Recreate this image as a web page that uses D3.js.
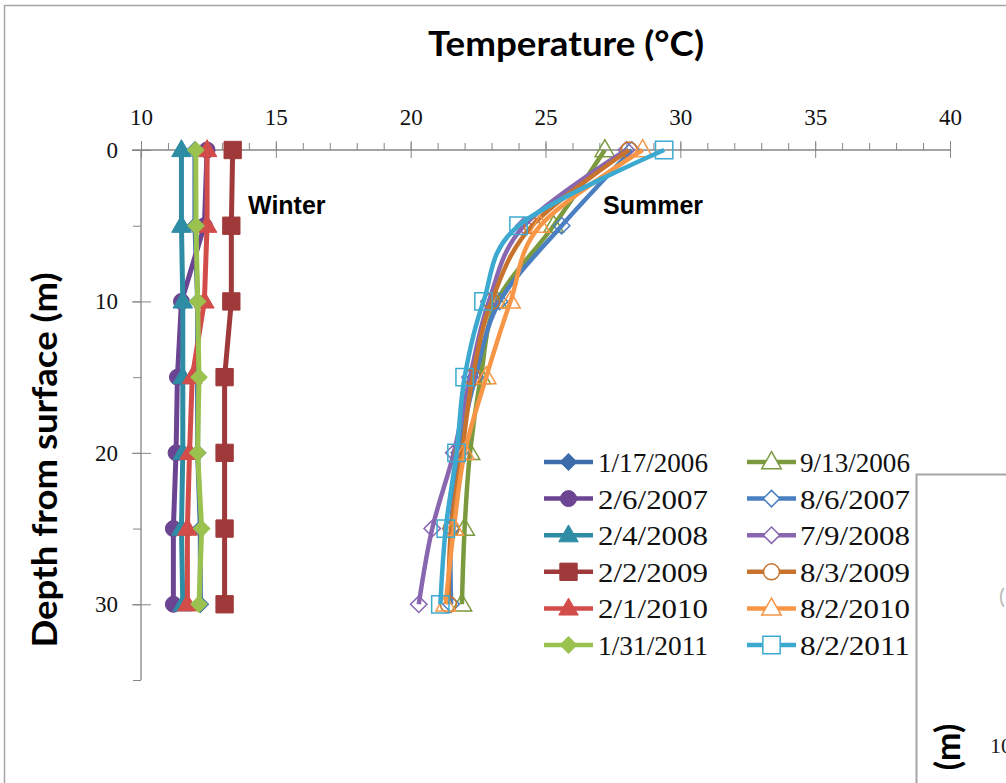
<!DOCTYPE html>
<meta charset=utf-8>
<script src="https://cdn.jsdelivr.net/npm/d3@7"></script>
<style>
body { margin: 0; background: white }
svg { display: block }
</style>
<body>
<svg id=chart width=1006 height=783></svg>
<script>
// depths (m) and temperatures (°C)
const depths = [0, 5, 10, 15, 20, 25, 30];
const xTicks = [10, 15, 20, 25, 30, 35, 40];
const yTicks = [0, 10, 20, 30];

const d20060117 = [12.0, 12.0, 12.1, 12.1, 12.1, 12.2, 12.2];
const d20060913 = [27.2, 25.3, 23.2, 22.6, 22.2, 22.0, 21.9];
const d20070206 = [12.45, 12.35, 11.5, 11.35, 11.3, 11.2, 11.2];
const d20070806 = [28.2, 25.6, 23.3, 22.4, 21.8, 21.5, 21.5];
const d20080204 = [11.5, 11.5, 11.55, 11.55, 11.55, 11.5, 11.55];
const d20080709 = [28.0, 24.2, 22.9, 22.2, 21.6, 20.8, 20.3];
const d20090202 = [13.4, 13.35, 13.35, 13.1, 13.1, 13.1, 13.1];
const d20090803 = [28.1, 24.5, 23.0, 22.3, 21.9, 21.5, 21.4];
const d20100201 = [12.45, 12.45, 12.35, 11.9, 11.8, 11.72, 11.72];
const d20100802 = [28.6, 24.8, 23.7, 22.8, 22.0, 21.6, 21.3];
const d20110131 = [12.03, 12.04, 12.1, 12.15, 12.1, 12.25, 12.15];
const d20110802 = [29.4, 24.0, 22.7, 22.0, 21.7, 21.3, 21.1];

// series in chronological order (legend reads row by row)
const series = [
	{name: "1/17/2006", vals: d20060117, color: "#3d6cab", shape: "diamond", filled: true},
	{name: "9/13/2006", vals: d20060913, color: "#7a9a3d", shape: "triangle", filled: false},
	{name: "2/6/2007", vals: d20070206, color: "#6b4592", shape: "circle", filled: true},
	{name: "8/6/2007", vals: d20070806, color: "#4a7fc1", shape: "diamond", filled: false},
	{name: "2/4/2008", vals: d20080204, color: "#2e8ca5", shape: "triangle", filled: true},
	{name: "7/9/2008", vals: d20080709, color: "#8866b0", shape: "diamond", filled: false},
	{name: "2/2/2009", vals: d20090202, color: "#a0393a", shape: "square", filled: true},
	{name: "8/3/2009", vals: d20090803, color: "#c7732d", shape: "circle", filled: false},
	{name: "2/1/2010", vals: d20100201, color: "#d24c4a", shape: "triangle", filled: true},
	{name: "8/2/2010", vals: d20100802, color: "#f79646", shape: "triangle", filled: false},
	{name: "1/31/2011", vals: d20110131, color: "#9bc24f", shape: "diamond", filled: true},
	{name: "8/2/2011", vals: d20110802, color: "#3caad0", shape: "square", filled: false}
];

const svg = d3.select("#chart");
const x = d3.scaleLinear().domain([10, 40]).range([141, 950]);
const y = d3.scaleLinear().domain([0, 35]).range([150, 680]);
const axisColor = "#868686";

// outer frame
svg.append("rect").attr("x", 4.5).attr("y", 5.5).attr("width", 1100).attr("height", 900)
	.attr("fill", "white").attr("stroke", "#a6a6a6").attr("stroke-width", 1.5);

// titles
svg.append("text").attr("x", 566).attr("y", 56).attr("text-anchor", "middle")
	.attr("font-family", "Lato").attr("font-weight", "bold").attr("font-size", 34)
	.attr("textLength", 276).attr("lengthAdjust", "spacingAndGlyphs")
	.text("Temperature (°C)");
svg.append("text").attr("transform", "translate(57,460) rotate(-90)").attr("text-anchor", "middle")
	.attr("font-family", "Lato").attr("font-weight", "bold").attr("font-size", 34)
	.attr("textLength", 375).attr("lengthAdjust", "spacingAndGlyphs")
	.text("Depth from surface (m)");

// X axis: minor ticks every 1, major every 5
svg.append("g").attr("transform", `translate(0,${y(0)})`)
	.call(d3.axisTop(x).tickValues(d3.range(10, 41)).tickSize(7).tickFormat(""))
	.call(g => g.select(".domain").remove())
	.call(g => g.selectAll("line").attr("stroke", axisColor));
svg.append("g").attr("transform", `translate(0,${y(0)})`)
	.call(d3.axisTop(x).tickValues(xTicks).tickSizeInner(9).tickSizeOuter(0).tickPadding(16))
	.call(g => g.select(".domain").attr("stroke", axisColor).attr("stroke-width", 1.3).attr("d", `M${x(10) - 9},0H${x(40)}`))
	.call(g => g.selectAll(".tick line").attr("stroke", axisColor).attr("y1", 8))
	.call(g => g.selectAll("text").attr("font-family", "Liberation Serif").attr("font-size", 23).attr("fill", "#111"));

// Y axis: minor ticks every 5, major every 10
svg.append("g").attr("transform", `translate(${x(10)},0)`)
	.call(d3.axisLeft(y).tickValues(d3.range(0, 36, 5)).tickSize(8).tickFormat(""))
	.call(g => g.select(".domain").remove())
	.call(g => g.selectAll("line").attr("stroke", axisColor));
svg.append("g").attr("transform", `translate(${x(10)},0)`)
	.call(d3.axisLeft(y).tickValues(yTicks).tickSizeInner(9).tickSizeOuter(0).tickPadding(14))
	.call(g => g.select(".domain").attr("stroke", axisColor).attr("stroke-width", 1.3).attr("d", `M0,${y(0)}V${y(35)}`))
	.call(g => g.selectAll(".tick line").attr("stroke", axisColor).attr("x1", 10))
	.call(g => g.selectAll("text").attr("font-family", "Liberation Serif").attr("font-size", 23).attr("fill", "#111"));

// marker shapes
function marker(shape) {
	if (shape == "square") return d3.symbol(d3.symbolSquare, 300)();
	if (shape == "circle") return d3.symbol(d3.symbolCircle, 200)();
	if (shape == "triangle") return d3.symbol(d3.symbolTriangle, 165)();
	return d3.symbol(d3.symbolSquare, 135)();
}
function markerRot(shape) { return shape == "diamond" ? " rotate(45)" : (shape == "triangle" ? " translate(0,1)" : ""); }

// annotations
svg.append("text").attr("x", 248).attr("y", 214).attr("font-family", "Liberation Sans").attr("font-weight", "bold")
	.attr("font-size", 25).text("Winter");
svg.append("text").attr("x", 603).attr("y", 214).attr("font-family", "Liberation Sans").attr("font-weight", "bold")
	.attr("font-size", 25).text("Summer");

// series: line then markers
const straight = d3.line().x(d => x(d[0])).y(d => y(d[1]));
const smooth = d3.line().x(d => x(d[0])).y(d => y(d[1])).curve(d3.curveCardinal.tension(0));
for (const s of series) {
	const pts = s.vals.map((v, i) => [v, depths[i]]);
	const g = svg.append("g");
	g.append("path").attr("d", (s.filled ? straight : smooth)(pts))
		.attr("fill", "none").attr("stroke", s.color).attr("stroke-width", s.filled ? 5 : 4.5).attr("stroke-linejoin", "round");
	g.selectAll(".m").data(pts).join("path")
		.attr("transform", d => `translate(${x(d[0])},${y(d[1])})` + markerRot(s.shape))
		.attr("d", marker(s.shape))
		.attr("fill", s.filled ? s.color : "none")
		.attr("stroke", s.color).attr("stroke-width", s.filled ? 1 : 1.5);
}

// legend, two columns, filled row by row
const legend = svg.append("g");
series.forEach((s, i) => {
	const col = i % 2, row = Math.floor(i / 2);
	const lx = col ? 747 : 544, ly = 462 + row * 36.6;
	const g = legend.append("g").attr("transform", `translate(${lx},${ly})`);
	g.append("line").attr("x1", 0).attr("x2", 49).attr("stroke", s.color).attr("stroke-width", 4.5);
	g.append("path").attr("transform", "translate(24.5,0)" + markerRot(s.shape))
		.attr("d", marker(s.shape))
		.attr("fill", s.filled ? s.color : "white")
		.attr("stroke", s.color).attr("stroke-width", s.filled ? 1 : 1.5);
	g.append("text").attr("x", col ? 53 : 54).attr("y", 10)
		.attr("font-family", "Liberation Serif").attr("font-size", 28).attr("fill", "#111")
		.attr("textLength", 110).attr("lengthAdjust", "spacingAndGlyphs")
		.text(s.name);
});

// neighbouring chart panel overlapping at the lower right
const next = svg.append("g");
next.append("rect").attr("x", 916.5).attr("y", 474.5).attr("width", 200).attr("height", 400)
	.attr("fill", "white").attr("stroke", "#a6a6a6").attr("stroke-width", 2);
next.append("text").attr("x", 999).attr("y", 604).attr("font-family", "Lato").attr("font-size", 22)
	.attr("fill", "#bbb").text("(");
next.append("text").attr("transform", "translate(960,747) rotate(-90)").attr("text-anchor", "middle")
	.attr("font-family", "Lato").attr("font-weight", "bold").attr("font-size", 34).text("(m)");
next.append("text").attr("x", 990).attr("y", 753).attr("font-family", "Liberation Serif")
	.attr("font-size", 22).attr("fill", "#1a1a1a").text("10");
</script>
</body>
